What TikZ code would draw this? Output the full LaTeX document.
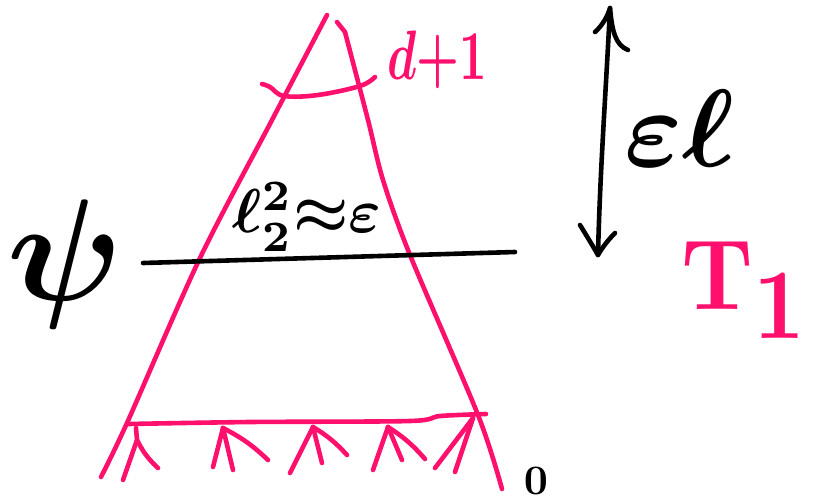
\documentclass[tikz,border=0pt]{standalone}
\usepackage{amsmath}
\definecolor{hpink}{RGB}{255,16,108}
\tikzset{
  pinkstroke/.style={draw=hpink, line width=4.6pt, line cap=round, line join=round},
  blackstroke/.style={draw=black, line width=4.6pt, line cap=round, line join=round},
  lbl/.style={inner sep=0pt, outer sep=0pt, font=\boldmath},
}
\begin{document}
\begin{tikzpicture}[x=1pt,y=-1pt]
\useasboundingbox (0,0) rectangle (823,499);
% triangle sides
\draw[pinkstroke] plot[smooth, tension=0.5] coordinates {(327,15) (272,120) (200,258) (127,423) (101,477)};
\draw[pinkstroke] (337,22) -- (345,32) plot[smooth, tension=0.5] coordinates {(345,32) (368,120) (383,180) (410,255) (478,415) (502,489)};
% top arc
\draw[pinkstroke] plot[smooth, tension=0.6] coordinates {(262,84) (270,87) (284,96) (318,95) (360,86) (375,77)};
% bottom bar
\draw[pinkstroke] plot[smooth, tension=0.5] coordinates {(128,424) (250,422) (410,421) (440,416) (486,414)};
% little arrows
\coordinate (a1) at (136,428);
\draw[pinkstroke] (a1) -- (137,440) -- (123,480);
\draw[pinkstroke] (137,440) to[bend right=10] (158,468);
\coordinate (a2) at (223,428);
\draw[pinkstroke] (a2) -- (213,467);
\draw[pinkstroke] (a2) -- (233,470);
\draw[pinkstroke] (a2) to[bend left=8] (268,460);
\coordinate (a3) at (313,427);
\draw[pinkstroke] (a3) -- (290,473);
\draw[pinkstroke] (a3) -- (322,463);
\draw[pinkstroke] (a3) to[bend left=8] (347,455);
\coordinate (a4) at (388,427);
\draw[pinkstroke] (a4) -- (373,470);
\draw[pinkstroke] (a4) -- (402,460);
\draw[pinkstroke] (a4) to[bend left=8] (425,459);
\coordinate (a5) at (473,418);
\draw[pinkstroke] (a5) -- (435,468);
\draw[pinkstroke] (a5) -- (455,472);
% black level line
\coordinate (lineL) at (143,263);
\coordinate (lineR) at (515,252);
\draw[blackstroke] (lineL) -- (lineR);
% double arrow
\coordinate (arrtop) at (610,8);
\coordinate (arrbot) at (598,255);
\draw[blackstroke] (arrtop) .. controls (606,90) and (600,170) .. (arrbot);
\draw[blackstroke] (595,32) .. controls (603,25) and (608,15) .. (arrtop) .. controls (612,30) and (615,45) .. (628,50);
\draw[blackstroke] (580,225) .. controls (588,238) and (594,248) .. (arrbot) .. controls (602,248) and (608,240) .. (615,233);
% labels
\node[lbl, text=hpink, xscale=4.8, yscale=7] (dl) at (437,60) {$d{+}1$};
\node[lbl, scale=11] (el) at (680,128) {$\varepsilon\ell$};
\node[lbl, scale=6.2] (lq) at (307,217) {$\ell^{2}_{2}{\approx}\varepsilon$};
\node[lbl, scale=14.5] (psi) at (65,264) {$\psi$};
\node[lbl, text=hpink, xscale=9, yscale=10] (T1) at (746,290) {$\mathrm{T}_{\textstyle 1}$};
\node[lbl, scale=4.2] (zero) at (536,481) {$0$};
\end{tikzpicture}
\end{document}
